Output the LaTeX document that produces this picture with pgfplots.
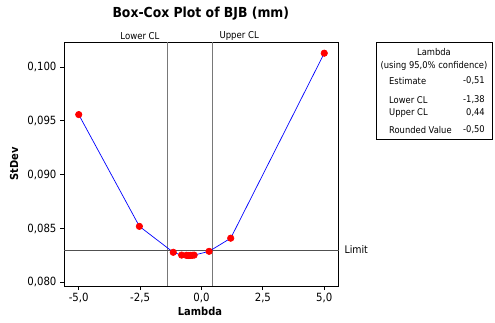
\documentclass[border=0pt]{standalone}
\usepackage{fontspec}
\setmainfont{DejaVu Sans Condensed}
\usepackage{pgfplots}
\pgfplotsset{compat=1.18}
\definecolor{clgray}{RGB}{120,120,120}
\definecolor{limgray}{RGB}{80,80,80}
\begin{document}
\begin{tikzpicture}[x=1pt,y=1pt]
\path[use as bounding box] (0,0) rectangle (495,322);
\begin{axis}[at={(64pt,36pt)}, anchor=south west, scale only axis,
  width=275pt, height=244pt,
  xmin=-5.6, xmax=5.6, ymin=0.07966, ymax=0.10232,
  xtick={-5,-2.5,0,2.5,5},
  xticklabels={{-5,0},{-2,5},{0,0},{2,5},{5,0}},
  ytick={0.080,0.085,0.090,0.095,0.100},
  yticklabels={{0,080},{0,085},{0,090},{0,095},{0,100}},
  tick align=outside, xtick pos=bottom, ytick pos=left,
  major tick length=4pt,
  tick style={black, line width=0.8pt},
  axis line style={line width=1pt},
  ticklabel style={font=\fontsize{11.3}{12}\selectfont},
  scaled y ticks=false,
  clip=false]
\addplot[clgray, line width=1.5pt] coordinates {(-1.38,0.07966) (-1.38,0.10232)};
\addplot[clgray, line width=1.5pt] coordinates {(0.44,0.07966) (0.44,0.10232)};
\addplot[limgray, line width=0.8pt] coordinates {(-5.6,0.0830) (5.6,0.0830)};
\addplot[blue, line width=0.7pt, mark=*, mark size=3.2pt,
  mark options={fill=red, draw=red}] coordinates {
  (-5.00,0.09558) (-2.53,0.08520) (-1.15,0.08279) (-0.81,0.08253)
  (-0.62,0.08251) (-0.55,0.08250) (-0.51,0.08249) (-0.45,0.08250)
  (-0.38,0.08251) (-0.30,0.08253) (0.31,0.08288) (1.19,0.08410)
  (5.00,0.10128)};
\end{axis}
\node[font=\bfseries\fontsize{13.8}{15}\selectfont] at (200.8,308) {Box-Cox Plot of BJB (mm)};
\node[font=\fontsize{9.5}{10}\selectfont, anchor=east] at (163,286) {Lower CL};
\node[font=\fontsize{9.5}{10}\selectfont, anchor=west] at (216,286) {Upper CL};
\node[font=\fontsize{10.5}{11}\selectfont, anchor=west] at (341,72) {Limit};
\node[font=\bfseries\fontsize{11}{12}\selectfont, rotate=90] at (14,158) {StDev};
\node[font=\bfseries\fontsize{11}{12}\selectfont] at (200,11) {Lambda};
\draw[line width=0.7pt] (376,280) rectangle (492,183);
\begin{scope}[every node/.style={font=\fontsize{9.3}{10}\selectfont, inner sep=0pt}]
\node at (434,270) {Lambda};
\node at (434,256) {(using 95,0\% confidence)};
\node[anchor=west] at (389,241) {Estimate};
\node[anchor=east] at (485,241) {-0,51};
\node[anchor=west] at (389,222) {Lower CL};
\node[anchor=east] at (485,222) {-1,38};
\node[anchor=west] at (389,209) {Upper CL};
\node[anchor=east] at (485,209) {0,44};
\node[anchor=west] at (389,192) {Rounded Value};
\node[anchor=east] at (485,192) {-0,50};
\end{scope}
\end{tikzpicture}
\end{document}
